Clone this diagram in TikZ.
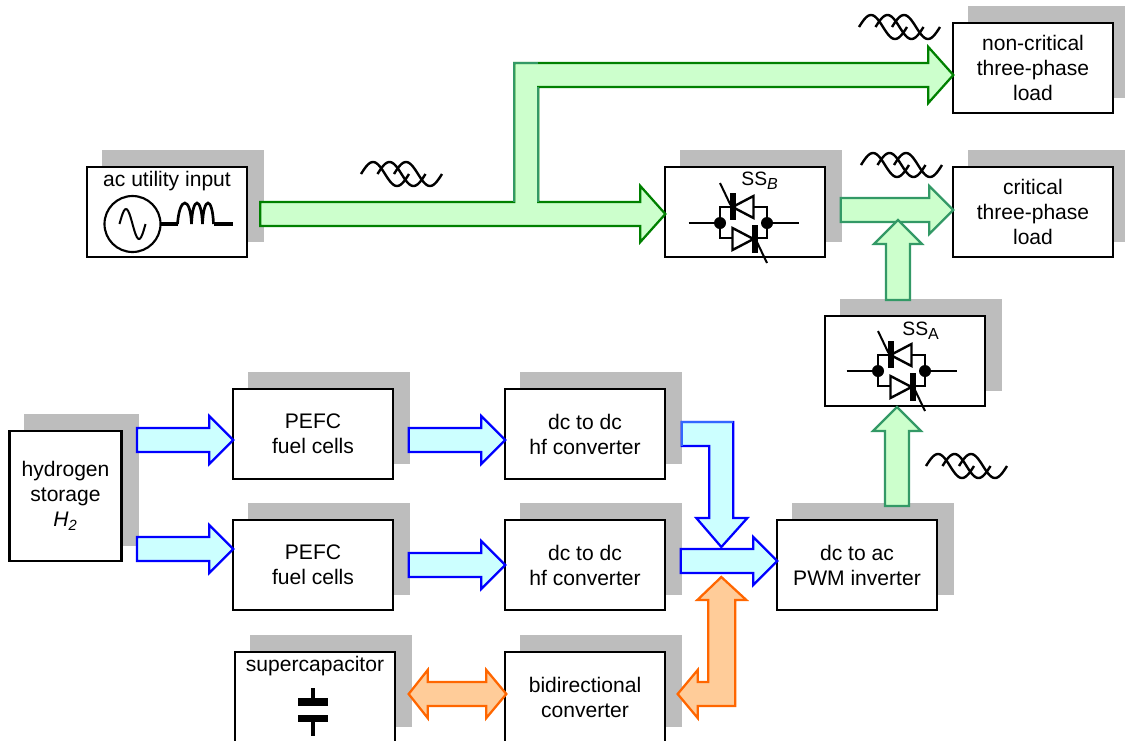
\documentclass[tikz,border=0pt]{standalone}
\usepackage{fontspec}
\setmainfont{Liberation Sans}
\usetikzlibrary{calc}
\usetikzlibrary{shadows}
\definecolor{shadowgray}{HTML}{BDBDBD}
\definecolor{greenfill}{HTML}{CCFFCC}
\definecolor{greenline}{HTML}{008000}
\definecolor{seagreen}{HTML}{339966}
\definecolor{bluefill}{HTML}{CCFFFF}
\definecolor{blueline}{HTML}{0000FF}
\definecolor{lightblueline}{HTML}{3366FF}
\definecolor{orangefill}{HTML}{FFCC99}
\definecolor{orangeline}{HTML}{FF6600}
\tikzset{
    block/.style={draw=black, fill=white, line width=1.7pt, inner sep=0pt, outer sep=0pt,
        minimum width=119.5pt, minimum height=67.5pt, align=center,
        font=\fontsize{15.8}{18.7}\selectfont,
        drop shadow={shadow xshift=12pt, shadow yshift=12pt, opacity=1, fill=shadowgray, draw=shadowgray}},
    blocktext/.style={inner sep=0pt, font=\fontsize{15.8}{18.7}\selectfont},
    sstext/.style={inner sep=0pt, font=\fontsize{14.5}{17}\selectfont},
    fatgreen/.style={draw=greenline, fill=greenfill, line width=1.7pt},
    fatsea/.style={draw=seagreen, fill=greenfill, line width=1.7pt},
    fatblue/.style={draw=blueline, fill=bluefill, line width=1.7pt},
    fatorange/.style={draw=orangeline, fill=orangefill, line width=1.7pt},
    threewave/.pic={
        \foreach \s in {0,16.5,33}
            \draw[line width=1.8pt, shift={(\s,0)}] plot[domain=0:360, samples=40, smooth] ({\x/360*48},{-12*sin(\x)});
    },
    acsource/.pic={
        \draw[line width=1.6pt] (0,0) circle (28);
        \draw[line width=1.5pt] plot[domain=-13:13, samples=25, smooth] (\x,{15*sin(\x*360/26)});
        \draw[line width=2.5pt] (28,0) -- (45,0) (81,0) -- (100,0);
        \draw[line width=2pt] (45,0) .. controls (47,-28) and (58,-28) .. (59,0)
            .. controls (60,-28) and (69,-28) .. (70,0) .. controls (71,-28) and (80,-28) .. (81,0);
    },
    capsymbol/.pic={
        \draw[line width=3pt] (0,-22) -- (0,-8) (0,8.5) -- (0,26);
        \draw[line width=6pt] (-15,-8) -- (15,-8);
        \draw[line width=5.5pt] (-15,8.5) -- (15,8.5);
    },
    thyristors/.pic={
        \draw[line width=1.9pt] (-55,0) -- (-23.5,0) (23.5,0) -- (55,0);
        \draw[line width=1.9pt] (-23.5,-16) rectangle (23.5,15);
        \draw[line width=1.8pt, fill=white] (-11,-16) -- (10,-27) -- (10,-5) -- cycle;
        \draw[line width=1.8pt, fill=white] (10,16) -- (-11,5) -- (-11,27) -- cycle;
        \draw[line width=4.3pt] (-10.5,-30) -- (-10.5,-3) (11.5,2) -- (11.5,30);
        \draw[line width=1.5pt] (-23.5,-40) -- (-13,-18) (12.5,17) -- (23.5,40);
        \fill (-23.5,0) circle (6) (23.5,0) circle (6);
    }
}
\newcommand{\fatarrow}[3]{%
    \coordinate (hd) at ($(#3)!18pt!(#2)$);
    \draw[#1] ($(#2)!9pt!90:(#3)$) -- ($(hd)!9pt!90:(#3)$) -- ($(hd)!18pt!90:(#3)$) -- (#3)
        -- ($(hd)!18pt!-90:(#3)$) -- ($(hd)!9pt!-90:(#3)$) -- ($(#2)!9pt!-90:(#3)$) -- cycle;%
}
\begin{document}
\begin{tikzpicture}[x=0.75pt, y=-0.75pt]
    \clip (0,0) rectangle (1125,740);

    \node (non) [block] at (1033,68) {non-critical\\three-phase\\load};
    \node (crit) [block] at (1033,212) {critical\\three-phase\\load};
    \node (ac) [block] at (167,212) {};
    \node (ssB) [block] at (745,212) {};
    \node (ssA) [block] at (905,361) {};
    \node (hydrogen) [block, minimum width=84pt, minimum height=98pt] at (65.5,496) {hydrogen\\storage\\\textit{H}\textsubscript{\textit{2}}};
    \node (pefcA) [block] at (313,434) {PEFC\\fuel cells};
    \node (pefcB) [block] at (313,565) {PEFC\\fuel cells};
    \node (dcA) [block] at (585,434) {dc to dc\\hf converter};
    \node (dcB) [block] at (585,565) {dc to dc\\hf converter};
    \node (inv) [block] at (857,565) {dc to ac\\PWM inverter};
    \node (super) [block] at (315,697) {};
    \node (bidir) [block] at (585,697) {bidirectional\\converter};

    \node (acText) [blocktext] at ($(ac.north)+(0,14)$) {ac utility input};
    \node (superText) [blocktext] at ($(super.north)+(0,14)$) {supercapacitor};
    \node (ssBText) [sstext] at ($(ssB.north)+(15,14)$) {SS\textsubscript{\fontsize{12}{12}\selectfont\textit{B}}};
    \node (ssAText) [sstext] at ($(ssA.north)+(16,15)$) {SS\textsubscript{\fontsize{12}{12}\selectfont A}};

    \pic at ($(ac.center)+(-34.5,12)$) {acsource};
    \pic at ($(super.center)+(-2,13)$) {capsymbol};
    \pic at ($(ssB.center)+(-1.5,11)$) {thyristors};
    \pic at ($(ssA.center)+(-3.5,10)$) {thyristors};

    \pic at (361,174) {threewave};
    \pic at (859,27) {threewave};
    \pic at (861,165) {threewave};
    \pic at (926,466) {threewave};

    \coordinate (tipN) at ($(non.west)+(0,7)$);
    \coordinate (tipB) at ($(ssB.west)+(0,2)$);
    \coordinate (acOut) at ($(ac.east)+(13.5,2)$);
    \coordinate (brA) at ($(acOut)+(254,-12)$);
    \coordinate (brB) at ($(acOut)+(278,-12)$);
    \draw[fatgreen] ($(acOut)+(0,-12)$) -- (brA) |- ($(tipN)+(-25,-12)$) -- ($(tipN)+(-25,-28)$) -- (tipN)
        -- ($(tipN)+(-25,28)$) -- ($(tipN)+(-25,12)$) -| (brB) -- ($(tipB)+(-25,-12)$) -- ($(tipB)+(-25,-28)$)
        -- (tipB) -- ($(tipB)+(-25,28)$) -- ($(tipB)+(-25,12)$) -- ($(acOut)+(0,12)$) -- cycle;
    \draw[seagreen, line width=1.7pt] (brA) |- ($(brB |- tipN)+(0,-12)$);
    \draw[seagreen, line width=1.7pt] (brB) -- ($(brB |- tipN)+(0,12)$);

    \coordinate (outB) at ($(ssB.east)+(16,-2)$);
    \coordinate (inC) at ($(crit.west)+(0,-2)$);
    \fatarrow{fatsea}{outB}{inC}
    \coordinate (outA) at ($(ssA.north)+(-7,-16)$);
    \coordinate (inM) at (outA |- outB);
    \coordinate (inM) at ($(inM)+(0,10)$);
    \fatarrow{fatsea}{outA}{inM}
    \coordinate (outI) at ($(inv.north)+(40,-14)$);
    \coordinate (inA) at ($(ssA.south)+(-8,1)$);
    \fatarrow{fatsea}{outI}{inA}

    \coordinate (tipPA) at ($(pefcA.west)+(0,6)$);
    \coordinate (tipPB) at ($(pefcB.west)+(0,-16)$);
    \coordinate (tailPA) at ($(hydrogen.east |- tipPA)+(15.5,0)$);
    \coordinate (tailPB) at ($(hydrogen.east |- tipPB)+(15.5,0)$);
    \fatarrow{fatblue}{tailPA}{tipPA}
    \fatarrow{fatblue}{tailPB}{tipPB}
    \coordinate (tipDA) at ($(dcA.west)+(0,6)$);
    \coordinate (tailDA) at ($(pefcA.east |- tipDA)+(16,0)$);
    \coordinate (tipDB) at (dcB.west);
    \coordinate (tailDB) at ($(pefcB.east)+(16,0)$);
    \fatarrow{fatblue}{tailDA}{tipDA}
    \fatarrow{fatblue}{tailDB}{tipDB}

    \coordinate (tipI) at ($(inv.west)+(0,-4)$);
    \coordinate (tailI) at ($(dcB.east |- tipI)+(16,0)$);
    \fatarrow{fatblue}{tailI}{tipI}
    \coordinate (tipL) at ($(inv.west)+(-56,-18)$);
    \coordinate (tailL) at ($(dcA.east)+(17,0)$);
    \draw[fatblue] ($(tailL)+(0,-12)$) -| ($(tipL)+(12,-29)$) -- ($(tipL)+(26,-29)$) -- (tipL) -- ($(tipL)+(-25,-29)$)
        -- ($(tipL)+(-12,-29)$) |- ($(tailL)+(0,12)$) -- cycle;
    \draw[lightblueline, line width=1.7pt] ($(tailL)+(0,12)$) -- ($(tailL)+(0,-12)$) -- ($(tipL |- tailL)+(12,-12)$);

    \coordinate (tipOT) at ($(inv.west)+(-56,12)$);
    \coordinate (tipOB) at ($(bidir.east)+(13,-3)$);
    \draw[fatorange] (tipOT) -- ($(tipOT)+(25,23)$) -- ($(tipOT)+(14,23)$) |- ($(tipOB)+(20,12)$) -- ($(tipOB)+(20,24)$)
        -- (tipOB) -- ($(tipOB)+(20,-24)$) -- ($(tipOB)+(20,-12)$) -| ($(tipOT)+(-13,23)$) -- ($(tipOT)+(-24,23)$) -- cycle;
    \coordinate (tipSL) at ($(super.east)+(14,-3)$);
    \coordinate (tipSR) at ($(bidir.west)+(1,-3)$);
    \draw[fatorange] (tipSL) -- ($(tipSL)+(19,-24)$) -- ($(tipSL)+(19,-12)$) -- ($(tipSR)+(-20,-12)$) -- ($(tipSR)+(-20,-24)$)
        -- (tipSR) -- ($(tipSR)+(-20,24)$) -- ($(tipSR)+(-20,12)$) -- ($(tipSL)+(19,12)$) -- ($(tipSL)+(19,24)$) -- cycle;
\end{tikzpicture}
\end{document}
